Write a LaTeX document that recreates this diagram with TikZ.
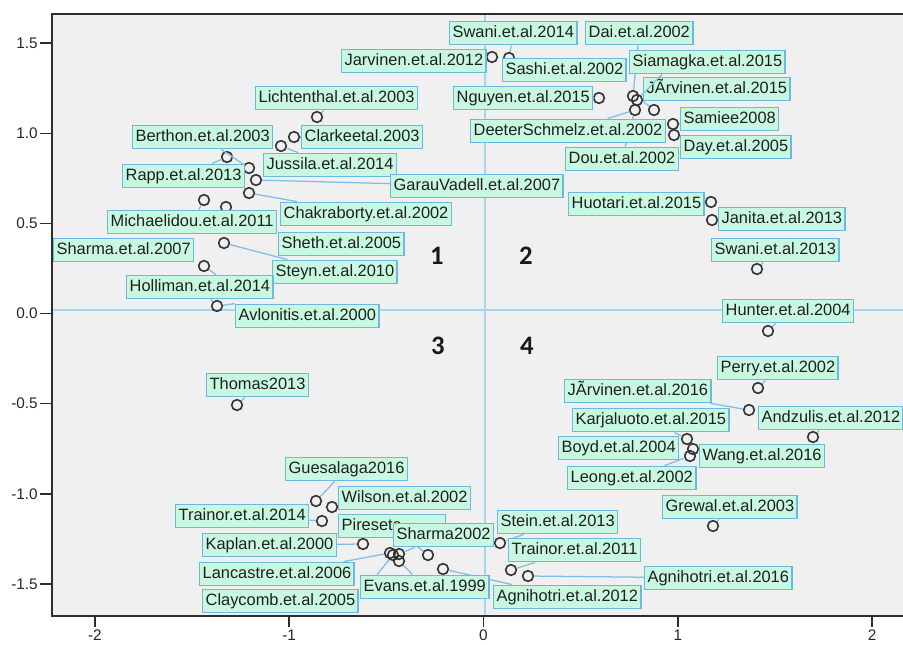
\documentclass[tikz,border=0pt]{standalone}
\usepackage{fontspec}
\setmainfont{Liberation Sans}
\newfontfamily\quadfont{Carlito}
\usetikzlibrary{calc}
\pgfdeclarelayer{under}
\pgfsetlayers{under,main}

\definecolor{plotbg}{RGB}{240,240,240}
\definecolor{refline}{RGB}{170,212,236}
\definecolor{labfill}{RGB}{200,248,224}
\definecolor{labedge}{RGB}{105,185,225}
\definecolor{conline}{RGB}{125,192,230}
\definecolor{ptedge}{RGB}{50,50,50}
\definecolor{axisc}{RGB}{45,45,45}

\tikzset{
  lab/.style={draw=labedge, line width=1.1pt, fill=labfill, anchor=west,
    inner xsep=2.2pt, inner ysep=0pt, text height=9.2pt, text depth=2.6pt,
    minimum height=17.5pt, font=\fontsize{12.3}{14}\selectfont, text=black!88},
  dot/.style={circle, draw=ptedge, line width=1.2pt, minimum size=8pt, inner sep=0pt},
  con/.style={draw=conline, line width=0.95pt},
  ticklab/.style={font=\fontsize{11.5}{13}\selectfont, text=black!85, inner sep=0pt},
  quad/.style={font=\quadfont\bfseries\fontsize{20}{22}\selectfont, text=black!90}
}

\begin{document}
\begin{tikzpicture}[x=0.75pt,y=-0.75pt]
\useasboundingbox (0,0) rectangle (903,644);

\begin{pgfonlayer}{under}
  \fill[white] (0,0) rectangle (903,644);
  % plot area and reference lines
  \fill[plotbg] (52,14) rectangle (903,616);
  \draw[refline, line width=1.1pt] (52,310) -- (903,310);
  \draw[refline, line width=1.1pt] (485,14) -- (485,616);

  % data points
  \node[dot] (pa) at (317,117) {};
  \node[dot] (pb) at (294,137) {};
  \node[dot] (pc) at (281,146) {};
  \node[dot] (pd) at (227,157) {};
  \node[dot] (pe) at (249,168) {};
  \node[dot] (pf) at (256,180) {};
  \node[dot] (pg) at (249,193) {};
  \node[dot] (ph) at (204,200) {};
  \node[dot] (pi) at (226,207) {};
  \node[dot] (pj) at (224,243) {};
  \node[dot] (pk) at (204,266) {};
  \node[dot] (pl) at (217,306) {};
  \node[dot] (pm) at (237,405) {};
  \node[dot] (pn) at (492,57) {};
  \node[dot] (po) at (509,58) {};
  \node[dot] (pp) at (599,98) {};
  \node[dot] (pq) at (633,96) {};
  \node[dot] (pr) at (637,100) {};
  \node[dot] (ps) at (635,110) {};
  \node[dot] (pt) at (654,110) {};
  \node[dot] (pu) at (673,124) {};
  \node[dot] (pv) at (674,135) {};
  \node[dot] (pw) at (711,202) {};
  \node[dot] (px) at (712,220) {};
  \node[dot] (py) at (757,269) {};
  \node[dot] (pz) at (768,331) {};
  \node[dot] (qa) at (758,388) {};
  \node[dot] (qb) at (749,410) {};
  \node[dot] (qc) at (813,437) {};
  \node[dot] (qd) at (687,439) {};
  \node[dot] (qe) at (693,449) {};
  \node[dot] (qf) at (690,456) {};
  \node[dot] (qg) at (713,526) {};
  \node[dot] (qh) at (500,543) {};
  \node[dot] (qi) at (511,570) {};
  \node[dot] (qj) at (528,576) {};
  \node[dot] (qk) at (316,501) {};
  \node[dot] (ql) at (332,507) {};
  \node[dot] (qm) at (322,521) {};
  \node[dot] (qn) at (363,544) {};
  \node[dot] (qo) at (390,553) {};
  \node[dot] (qp) at (393,555) {};
  \node[dot] (qq) at (399,554) {};
  \node[dot] (qr) at (399,561) {};
  \node[dot] (qs) at (428,555) {};
  \node[dot] (qt) at (443,569) {};
\end{pgfonlayer}

% point labels
\node[lab] (swa14) at (449,33) {Swani.et.al.2014};
\node[lab] (dai02) at (585,33) {Dai.et.al.2002};
\node[lab] (jar12) at (341,61) {Jarvinen.et.al.2012};
\node[lab] (sia15) at (629,62) {Siamagka.et.al.2015};
\node[lab] (sas02) at (502,70) {Sashi.et.al.2002};
\node[lab] (jar15) at (643,89) {JÃrvinen.et.al.2015};
\node[lab] (ngu15) at (453,98) {Nguyen.et.al.2015};
\node[lab] (lic03) at (255,98) {Lichtenthal.et.al.2003};
\node[lab] (ber03) at (132,137) {Berthon.et.al.2003};
\node[lab] (cla03) at (301,137) {Clarkeetal.2003};
\node[lab] (sam08) at (680,119) {Samiee2008};
\node[lab] (dee02) at (470,131) {DeeterSchmelz.et.al.2002};
\node[lab] (day05) at (680,147) {Day.et.al.2005};
\node[lab] (dou02) at (565,159) {Dou.et.al.2002};
\node[lab] (jus14) at (263,165) {Jussila.et.al.2014};
\node[lab] (rap13) at (122,176) {Rapp.et.al.2013};
\node[lab] (gar07) at (390,186) {GarauVadell.et.al.2007};
\node[lab] (hua15) at (568,204) {Huotari.et.al.2015};
\node[lab] (cha02) at (280,214) {Chakraborty.et.al.2002};
\node[lab] (jan13) at (718,219) {Janita.et.al.2013};
\node[lab] (mic11) at (107,222) {Michaelidou.et.al.2011};
\node[lab] (she05) at (278,244) {Sheth.et.al.2005};
\node[lab] (sha07) at (53,250) {Sharma.et.al.2007};
\node[lab] (swa13) at (711,250) {Swani.et.al.2013};
\node[lab] (ste10) at (272,272) {Steyn.et.al.2010};
\node[lab] (hol14) at (126,287) {Holliman.et.al.2014};
\node[lab] (hun04) at (722,311) {Hunter.et.al.2004};
\node[lab] (avl00) at (235,316) {Avlonitis.et.al.2000};
\node[lab] (per02) at (717,368) {Perry.et.al.2002};
\node[lab] (tho13) at (206,385) {Thomas2013};
\node[lab] (jar16) at (564,391) {JÃrvinen.et.al.2016};
\node[lab] (and12) at (758,418) {Andzulis.et.al.2012};
\node[lab] (kar15) at (572,420) {Karjaluoto.et.al.2015};
\node[lab] (boy04) at (558,448) {Boyd.et.al.2004};
\node[lab] (wan16) at (699,456) {Wang.et.al.2016};
\node[lab] (leo02) at (567,478) {Leong.et.al.2002};
\node[lab] (gue16) at (285,469) {Guesalaga2016};
\node[lab] (wil02) at (338,498) {Wilson.et.al.2002};
\node[lab] (gre03) at (662,507) {Grewal.et.al.2003};
\node[lab] (tra14) at (175,516) {Trainor.et.al.2014};
\node[lab] (ste13) at (497,522) {Stein.et.al.2013};
\node[lab, text width=75.5pt, align=left] (pir09) at (338,526) {Pireseta};
\node[lab] (sha02) at (393,535) {Sharma2002};
\node[lab] (kap00) at (202,545) {Kaplan.et.al.2000};
\node[lab] (tra11) at (508,550) {Trainor.et.al.2011};
\node[lab] (lan06) at (199,574) {Lancastre.et.al.2006};
\node[lab] (agn16) at (644,578) {Agnihotri.et.al.2016};
\node[lab] (eva99) at (360,587) {Evans.et.al.1999};
\node[lab] (agn12) at (493,597) {Agnihotri.et.al.2012};
\node[lab] (cla05) at (202,601) {Claycomb.et.al.2005};

% leader lines from points to their labels
\begin{pgfonlayer}{under}
  \draw[con] (pa) -- (lic03);
  \draw[con] (pb) -- (cla03);
  \draw[con] (pc) -- (jus14);
  \draw[con] (pd) -- (rap13);
  \draw[con] (pe) -- (ber03);
  \draw[con] (pf) -- (gar07);
  \draw[con] (pg) -- (cha02);
  \draw[con] (ph) -- (mic11);
  \draw[con] (pj) -- (ste10);
  \draw[con] (pk) -- ($(hol14.north west)+(90,0)$);
  \draw[con] (pl) -- (hol14);
  \draw[con] (pl) -- (avl00.north west);
  \draw[con] (pm) -- (tho13);
  \draw[con] (pn) -- (jar12);
  \draw[con] (po) -- (swa14);
  \draw[con] (pp) -- (ngu15);
  \draw[con] (pq) -- (dai02);
  \draw[con] (ps) -- (dee02);
  \draw[con] (ps) -- (dou02);
  \draw[con] (pt) -- (jar15.south west);
  \draw[con] (pu) -- (sam08);
  \draw[con] (pv) -- (day05);
  \draw[con] (pw) -- (hua15);
  \draw[con] (px) -- (jan13);
  \draw[con] (py) -- (swa13);
  \draw[con] (pz) -- (hun04);
  \draw[con] (qa) -- (per02);
  \draw[con] (qb) -- (jar16);
  \draw[con] (qc) -- (and12);
  \draw[con] (qd) -- (kar15);
  \draw[con] (qe) -- (wan16);
  \draw[con] (qf) -- (leo02);
  \draw[con] (qg) -- (gre03);
  \draw[con] (qh) -- (ste13);
  \draw[con] (qi) -- (tra11);
  \draw[con] (qj) -- (agn16);
  \draw[con] (qk) -- (gue16);
  \draw[con] (ql) -- (wil02);
  \draw[con] (qm) -- (tra14);
  \draw[con] (qn) -- (kap00);
  \draw[con] (qo) -- (lan06);
  \draw[con] (qp) -- ($(eva99.north west)+(17,0)$);
  \draw[con] (qq) -- (sha02);
  \draw[con] (qr) -- (eva99);
  \draw[con] (qs) -- (pir09);
  \draw[con] (qt) -- (agn12);
\end{pgfonlayer}
\draw[con] (pr) -- ($(sia15.south west)+(33,0)$);

% quadrant numbers
\node[quad] (q1) at (437,256) {1};
\node[quad] (q2) at (526,256) {2};
\node[quad] (q3) at (438,346) {3};
\node[quad] (q4) at (527,346) {4};

% axes frame and ticks
\draw[axisc, line width=1.4pt] (903,14) -- (52,14) -- (52,616) -- (903,616);
\foreach \yy/\tl in {43/1.5, 133.5/1.0, 223.5/0.5, 313.5/0.0, 403.6/-0.5, 494/-1.0, 584/-1.5}{
  \draw[axisc, line width=1.1pt] (40,\yy) -- (52,\yy);
  \node[ticklab, anchor=east] at (38,\yy) {\tl};
}
\foreach \xx/\tl in {94.9/-2, 289.2/-1, 483.5/0, 677.8/1, 872.1/2}{
  \draw[axisc, line width=1.1pt] (\xx,616) -- (\xx,627);
  \node[ticklab] at (\xx,635) {\tl};
}
\end{tikzpicture}
\end{document}
